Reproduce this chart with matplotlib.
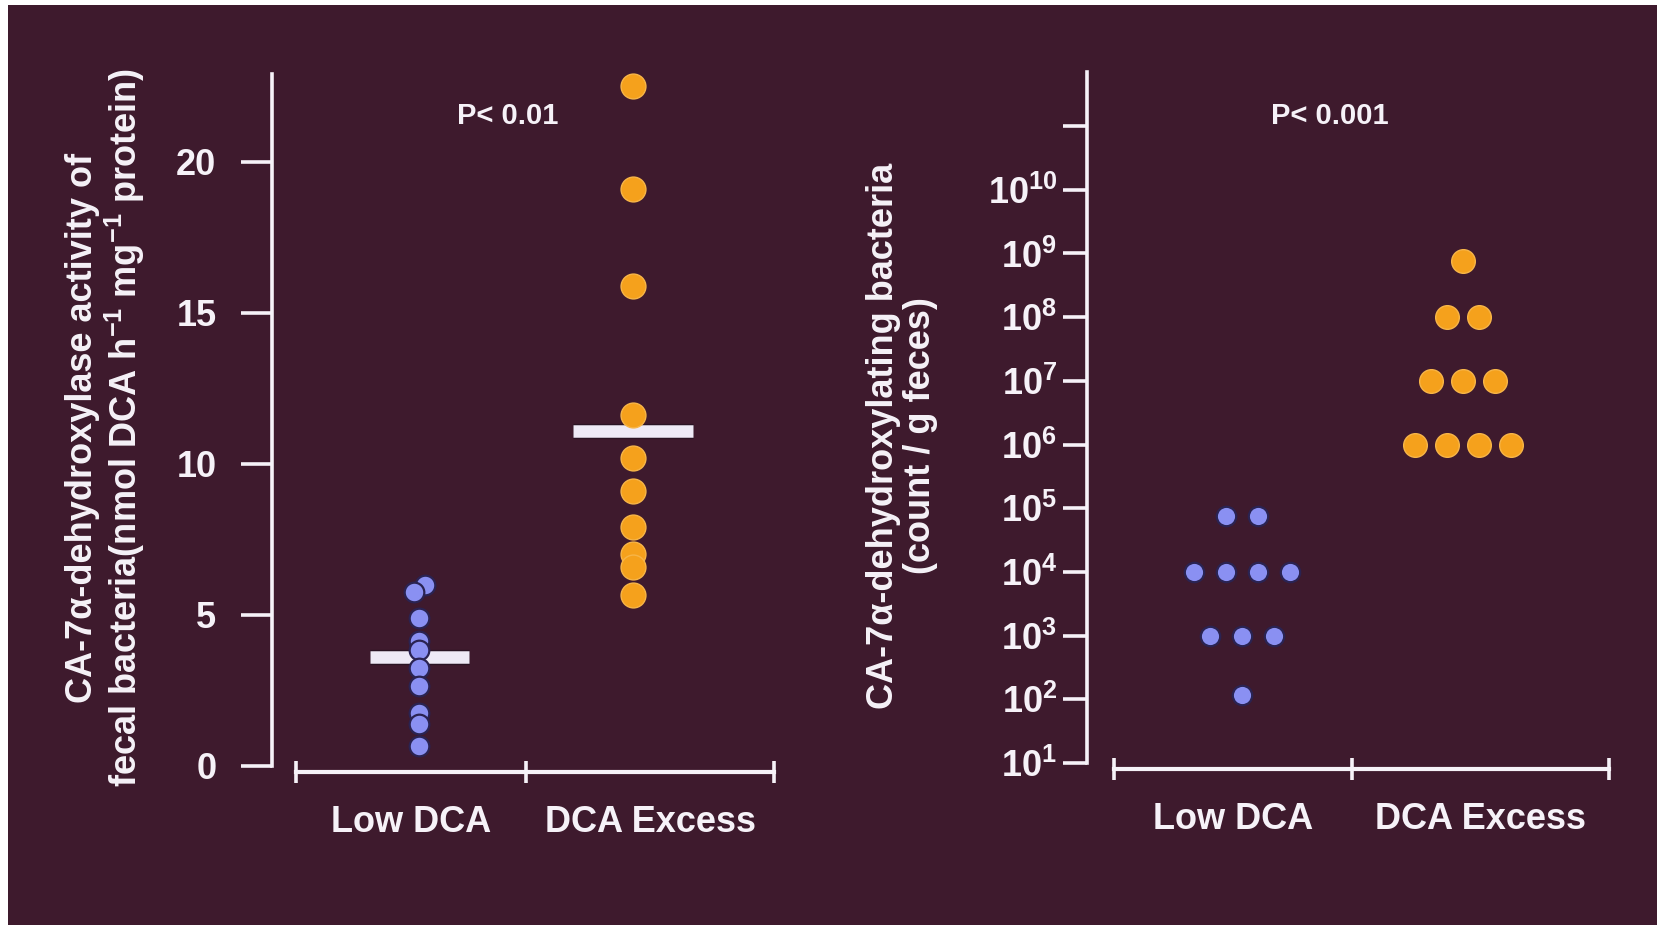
import numpy as np
import matplotlib
matplotlib.use('Agg')
import matplotlib.pyplot as plt
import matplotlib.patheffects as pe
from matplotlib.patches import Rectangle
from matplotlib.ticker import FixedLocator, FixedFormatter, NullLocator

plt.rcParams['font.family'] = ['Liberation Sans', 'DejaVu Sans']
plt.rcParams['font.weight'] = 'bold'
plt.rcParams['mathtext.fontset'] = 'custom'
plt.rcParams['mathtext.rm'] = 'Liberation Sans:bold'
plt.rcParams['mathtext.bf'] = 'Liberation Sans:bold'
plt.rcParams['mathtext.it'] = 'Liberation Sans:bold:italic'

groups = ['Low DCA', 'DCA Excess']

# left panel - enzyme activity (nmol DCA / h / mg protein)
activity_low = [6.0, 5.75, 4.9, 4.15, 3.85, 3.25, 2.65, 1.75, 1.4, 0.65]
activity_excess = [22.5, 19.1, 15.9, 11.6, 10.2, 9.1, 7.9, 7.0, 6.6, 5.65]
activity_mean = [3.6, 11.1]
activity_ticks = [0, 5, 10, 15, 20]

# right panel - bacteria count per g feces
count_low = [7.5e4, 7.5e4, 1e4, 1e4, 1e4, 1e4, 1e3, 1e3, 1e3, 1.15e2]
count_excess = [7.5e8, 1e8, 1e8, 1e7, 1e7, 1e7, 1e6, 1e6, 1e6, 1e6]
count_exp = list(range(1, 12))
count_labels = [r'$10^{%d}$' % e for e in count_exp[:-1]] + ['']

p_text = ['P< 0.01', 'P< 0.001']
ylabels = ['CA-7\u03b1-dehydroxylase activity of\n'
           'fecal bacteria(nmol DCA h$^{-1}$ mg$^{-1}$ protein)',
           'CA-7\u03b1-dehydroxylating bacteria\n(count / g feces)']

BG = '#3e1a2d'
FG = '#f6f2f8'
BLUE = '#8a90f2'
ORANGE = '#f5a11c'


def nudge_close(vals, gap, step):
    # neighbours that almost touch get pushed sideways
    offs = np.zeros(len(vals))
    for i in range(1, len(vals)):
        if abs(vals[i] - vals[i - 1]) < gap and offs[i - 1] == 0:
            offs[i - 1] = step
            offs[i] = -step
    return offs


def spread_equal(vals, step):
    # equal values side by side, centred on the group
    vals = np.asarray(vals)
    offs = np.zeros(len(vals))
    for v in np.unique(vals):
        idx = np.where(vals == v)[0]
        offs[idx] = (np.arange(len(idx)) - (len(idx) - 1) / 2) * step
    return offs


def style_axes(ax, tick_len, tick_pad):
    ax.set_facecolor('none')
    for s in ['top', 'right']:
        ax.spines[s].set_visible(False)
    ax.spines['left'].set_color(FG)
    ax.spines['left'].set_linewidth(2.6)
    ax.spines['bottom'].set_color(FG)
    ax.spines['bottom'].set_linewidth(3)
    ax.spines['bottom'].set_position(('outward', 4))
    ax.spines['bottom'].set_bounds(-0.58, 1.66)
    ax.tick_params(axis='y', which='major', direction='out', length=tick_len,
                   width=2.6, color=FG, labelcolor=FG, labelsize=26, pad=tick_pad)
    ax.tick_params(axis='y', which='minor', length=0)
    ax.set_xticks([-0.58, 0.5, 1.66])
    ax.set_xticks([-0.04, 1.08], groups, minor=True)
    ax.tick_params(axis='x', which='major', direction='inout', length=16,
                   width=2.6, color=FG, labelbottom=False)
    ax.tick_params(axis='x', which='minor', length=0, labelcolor=FG,
                   labelsize=26, pad=24)


fig = plt.figure(figsize=(16.58, 9.25), dpi=100, facecolor='white')
fig.patches.append(Rectangle((8 / 1658, 0), 1, 1 - 5 / 925, transform=fig.transFigure,
                             facecolor=BG, edgecolor='none', zorder=-10))

# ---- left panel
ax1 = fig.add_axes([272 / 1658, 0.1719, 528 / 1658, 0.7481])
ax1.set_xlim(-0.69, 1.78)
ax1.set_ylim(0, 22.9)
style_axes(ax1, 22, 18)
ax1.set_yticks(activity_ticks)

low = np.array(activity_low)
exc = np.array(activity_excess)
ax1.scatter(0 + nudge_close(low, 0.28, 0.025), low, s=200, color=BLUE,
            edgecolor='#2a2352', linewidth=1.6, zorder=4, clip_on=False)
ax1.scatter(1 + nudge_close(exc, 0.28, 0.025), exc, s=320, color=ORANGE,
            edgecolor='#f7b548', linewidth=1.0, zorder=4, clip_on=False)
half_w = [0.23, 0.28]
for i, m in enumerate(activity_mean):
    ax1.hlines(m, i - half_w[i], i + half_w[i], color='#eeeaf6', lw=9, zorder=3,
               path_effects=[pe.Stroke(linewidth=11, foreground='#2a1424'), pe.Normal()])

# ---- right panel
ax2 = fig.add_axes([1087 / 1658, 0.1751, 533 / 1658, 0.7471])
ax2.set_yscale('log')
ax2.set_xlim(-0.70, 1.71)
ax2.set_ylim(10, 10 ** 11.85)
style_axes(ax2, 17.5, 4)
ax2.yaxis.set_major_locator(FixedLocator([10.0 ** e for e in count_exp]))
ax2.yaxis.set_major_formatter(FixedFormatter(count_labels))
ax2.yaxis.set_minor_locator(NullLocator())
ax2.tick_params(axis='y', labelsize=26)

cl = np.array(count_low)
ce = np.array(count_excess)
ax2.scatter(0 + spread_equal(cl, 0.145), cl, s=195, color=BLUE,
            edgecolor='#2a2352', linewidth=1.6, zorder=4)
ax2.scatter(1 + spread_equal(ce, 0.145), ce, s=290, color=ORANGE,
            edgecolor='#f7b548', linewidth=1.0, zorder=4)

# p values
fig.text(508 / 1658, 1 - 116 / 925, p_text[0], color=FG, fontsize=21,
         ha='center', va='center', fontweight='bold')
fig.text(1330 / 1658, 1 - 116 / 925, p_text[1], color=FG, fontsize=21,
         ha='center', va='center', fontweight='bold')

# y labels
fig.text(106 / 1658, 1 - 428 / 925, ylabels[0], color=FG, fontsize=26, rotation=90,
         ha='center', va='center', multialignment='center', linespacing=1.1,
         fontweight='bold')
fig.text(902 / 1658, 1 - 436 / 925, ylabels[1], color=FG, fontsize=26, rotation=90,
         ha='center', va='center', multialignment='center', linespacing=1.1,
         fontweight='bold')

fig.savefig('out.png', dpi=100, facecolor=fig.get_facecolor())
